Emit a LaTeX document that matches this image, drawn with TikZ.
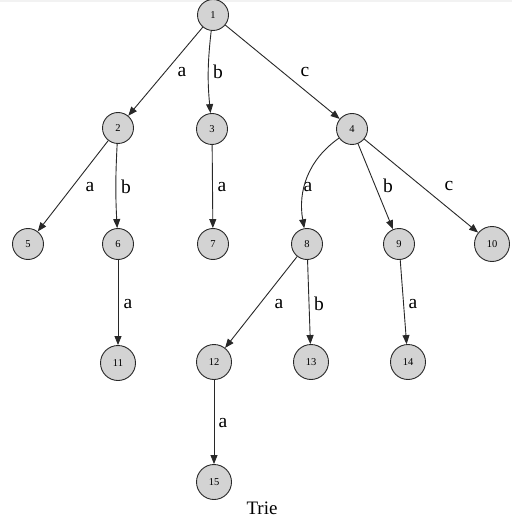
\documentclass[tikz,border=0pt]{standalone}
\usepackage{fontspec}
\setmainfont{Liberation Serif}
\usetikzlibrary{arrows.meta}
\definecolor{nodefill}{RGB}{211,211,211}
\definecolor{edgecol}{RGB}{40,40,40}
\tikzset{
  tnode/.style={circle, draw=edgecol, fill=nodefill, line width=0.9pt, minimum size=31pt, inner sep=0pt, font=\fontsize{10.5}{10.5}\selectfont},
  tnodew/.style={tnode, minimum size=35pt},
  tedge/.style={draw=edgecol, line width=0.9pt, -{Triangle[length=9pt,width=7pt]}},
  lbl/.style={font=\fontsize{19.5}{19.5}\selectfont, inner sep=0pt}
}
\begin{document}
\begin{tikzpicture}[x=1pt,y=1pt]
\useasboundingbox (0,0) rectangle (512,-518);
\fill[white] (0,0) rectangle (512,-518);
\fill[black!5] (0,0) rectangle (512,-2.5);
% nodes
\node[tnode] (n1) at (213,-15) {1};
\node[tnode] (n2) at (118,-128) {2};
\node[tnode] (n3) at (212,-129) {3};
\node[tnode] (n4) at (352,-129) {4};
\node[tnode] (n5) at (28,-244) {5};
\node[tnode] (n6) at (118,-244) {6};
\node[tnode] (n7) at (213,-244) {7};
\node[tnode] (n8) at (307,-244) {8};
\node[tnode] (n9) at (399,-244) {9};
\node[tnodew] (n10) at (492,-244) {10};
\node[tnodew] (n11) at (118,-363) {11};
\node[tnodew] (n12) at (214,-362) {12};
\node[tnodew] (n13) at (311,-362) {13};
\node[tnodew] (n14) at (408,-362) {14};
\node[tnodew] (n15) at (214,-482) {15};
% edges
\draw[tedge] (n1) -- (n2) node[lbl] at (182,-72) {a};
\draw[tedge] (n1) to[bend right=6] (n3) node[lbl] at (218,-72) {b};
\draw[tedge] (n1) -- (n4) node[lbl] at (305,-72) {c};
\draw[tedge] (n2) -- (n5) node[lbl] at (90,-187) {a};
\draw[tedge] (n2) to[bend right=3] (n6) node[lbl] at (126,-187) {b};
\draw[tedge] (n3) -- (n7) node[lbl] at (222,-187) {a};
\draw[tedge] (n4) to[out=215,in=100] (n8) node[lbl] at (308,-187) {a};
\draw[tedge] (n4) -- (n9) node[lbl] at (388,-186) {b};
\draw[tedge] (n4) -- (n10) node[lbl] at (449,-186) {c};
\draw[tedge] (n6) -- (n11) node[lbl] at (128,-304) {a};
\draw[tedge] (n8) -- (n12) node[lbl] at (279,-304) {a};
\draw[tedge] (n8) -- (n13) node[lbl] at (319,-304) {b};
\draw[tedge] (n9) -- (n14) node[lbl] at (413,-304) {a};
\draw[tedge] (n12) -- (n15) node[lbl] at (223,-423) {a};
% title
\node[font=\fontsize{19}{19}\selectfont, inner sep=0pt, anchor=base] (title) at (262,-514) {Trie};
\end{tikzpicture}
\end{document}
